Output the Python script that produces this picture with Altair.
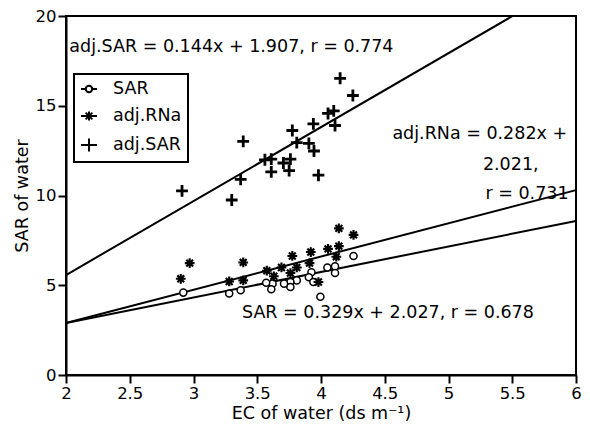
import altair as alt
import pandas as pd

FONT = "DejaVu Sans"

# ---- data ----
series_names = ["SAR", "adj.RNa", "adj.SAR"]

sar_ec = [2.92, 3.28, 3.37, 3.995, 4.255, 4.11, 4.11, 4.05, 3.925, 3.905, 3.94,
          3.81, 3.76, 3.76, 3.71, 3.62, 3.61, 3.57]
sar_val = [4.59, 4.54, 4.72, 4.36, 6.63, 6.05, 5.68, 5.99, 5.72, 5.45, 5.18,
           5.27, 5.18, 4.90, 5.09, 5.09, 4.78, 5.14]

rna_ec = [2.97, 2.90, 3.39, 3.28, 3.39, 4.14, 4.255, 4.055, 4.14, 4.12, 3.92,
          3.91, 3.775, 3.81, 3.76, 3.69, 3.575, 3.63, 3.98]
rna_val = [6.23, 5.36, 6.27, 5.21, 5.27, 8.17, 7.81, 7.03, 7.18, 6.59, 6.85,
           6.23, 6.63, 5.99, 5.68, 5.99, 5.81, 5.50, 5.18]

adj_ec = [3.39, 3.37, 2.91, 3.30, 4.15, 4.25, 4.055, 4.10, 4.11, 3.94, 3.775,
          3.81, 3.905, 3.945, 3.56, 3.61, 3.61, 3.705, 3.76, 3.75, 3.98]
adj_val = [13.02, 10.90, 10.26, 9.75, 16.53, 15.57, 14.57, 14.71, 13.90, 13.99,
           13.62, 12.95, 12.90, 12.48, 11.99, 12.03, 11.32, 11.81, 12.03, 11.39, 11.13]

# fitted lines as drawn in the picture (slope, intercept, x range)
line_slope = [1.42, 1.85, 4.12]
line_intercept = [0.06, -0.80, -2.67]
line_x_start = [2.0, 2.0, 2.0]
line_x_end = [6.0, 6.0, 5.50]

ann_text = ["adj.SAR = 0.144x + 1.907, r = 0.774", "adj.RNa = 0.282x +", "2.021,",
            "r = 0.731", "SAR = 0.329x + 2.027, r = 0.678"]
ann_x = [2.026, 4.56, 5.27, 5.29, 3.38]
ann_y = [18.26, 13.4, 11.7, 10.1, 3.45]

x_ticks = [2, 2.5, 3, 3.5, 4, 4.5, 5, 5.5, 6]
y_ticks = [0, 5, 10, 15, 20]

# ---- tables ----
pts = pd.concat([
    pd.DataFrame({"ec": sar_ec, "val": sar_val, "series": "SAR"}),
    pd.DataFrame({"ec": rna_ec, "val": rna_val, "series": "adj.RNa"}),
    pd.DataFrame({"ec": adj_ec, "val": adj_val, "series": "adj.SAR"}),
], ignore_index=True)

rows = []
for s, m, b, x0, x1 in zip(series_names, line_slope, line_intercept, line_x_start, line_x_end):
    rows.append({"series": s, "ec": x0, "val": m * x0 + b})
    rows.append({"series": s, "ec": x1, "val": m * x1 + b})
lines = pd.DataFrame(rows)

ann = pd.DataFrame({"ec": ann_x, "val": ann_y, "text": ann_text})

plus_path = "M-1,0L1,0M0,-1L0,1"
ast_path = "M-1,0L1,0M0,-1L0,1M-0.7,-0.7L0.7,0.7M-0.7,0.7L0.7,-0.7"

leg_circle = "M-1,0L-0.4,0M0.4,0L1,0M-0.4,0A0.4,0.4,0,1,1,0.4,0A0.4,0.4,0,1,1,-0.4,0"
leg_ast = "M-1,0L1,0M0,-0.55L0,0.55M-0.42,-0.42L0.42,0.42M-0.42,0.42L0.42,-0.42"
leg_plus = "M-1,0L1,0M0,-0.8L0,0.8"

xscale = alt.Scale(domain=[2, 6], nice=False, zero=False)
yscale = alt.Scale(domain=[0, 20], nice=False)

xaxis = alt.Axis(values=x_ticks, format="~g", title="EC of water (ds m⁻¹)", grid=False,
                 labelFlush=False, labelOverlap=False, titlePadding=3)
yaxis = alt.Axis(values=y_ticks, format="~g", title="SAR of water", grid=False,
                 labelOverlap=False, titlePadding=4)

X = alt.X("ec:Q", scale=xscale, axis=xaxis)
Y = alt.Y("val:Q", scale=yscale, axis=yaxis)

line_layer = alt.Chart(lines).mark_line(color="black", strokeWidth=2).encode(
    x=X, y=Y, detail="series:N",
)

point_layer = alt.Chart(pts).mark_point(filled=False, opacity=1, color="black").encode(
    x=X, y=Y,
    shape=alt.Shape("series:N",
                    scale=alt.Scale(domain=series_names, range=["circle", ast_path, plus_path]),
                    legend=None),
    size=alt.Size("series:N", scale=alt.Scale(domain=series_names, range=[50, 140, 150]),
                  legend=None),
    strokeWidth=alt.StrokeWidth("series:N",
                                scale=alt.Scale(domain=series_names, range=[1.5, 2.8, 2.0]),
                                legend=None),
    fill=alt.Fill("series:N", scale=alt.Scale(domain=series_names,
                                              range=["white", "transparent", "transparent"]),
                  legend=None),
)

# legend-only layer (no marks drawn; supplies the legend's line+symbol glyphs)
legend_layer = alt.Chart(pts).transform_filter("false").mark_point(
    filled=False, opacity=1, color="black", strokeWidth=2
).encode(
    x=X, y=Y,
    shape=alt.Shape("series:N",
                    scale=alt.Scale(domain=series_names, range=[leg_circle, leg_ast, leg_plus]),
                    legend=alt.Legend(
                        title=None, orient="none", legendX=8, legendY=58,
                        labelFont=FONT, labelFontSize=17.5, labelColor="black",
                        labelOffset=15, strokeColor="black", padding=6,
                        rowPadding=9, symbolSize=256, symbolStrokeColor="black",
                        symbolStrokeWidth=2, symbolOpacity=1)),
)

text_layer = alt.Chart(ann).mark_text(align="left", baseline="middle", font=FONT,
                                      fontSize=17.5, color="black").encode(
    x=X, y=Y, text="text:N",
)

chart = alt.layer(line_layer, point_layer, legend_layer, text_layer).resolve_scale(
    shape="independent"
).properties(
    width=510, height=359, autosize="none",
    padding={"left": 58, "top": 8, "right": 6, "bottom": 51},
    background="white",
).configure_view(
    stroke="black", strokeWidth=2
).configure_axis(
    domainColor="black", domainWidth=2, tickColor="black", tickWidth=2, tickSize=8,
    labelFont=FONT, labelFontSize=16.5, labelColor="black", labelPadding=2,
    titleFont=FONT, titleFontSize=17.5, titleFontWeight="normal", titleColor="black",
).configure_legend(
    strokeWidth=2
)

chart.save("out.html", embed_options={"renderer": "svg", "actions": False})
